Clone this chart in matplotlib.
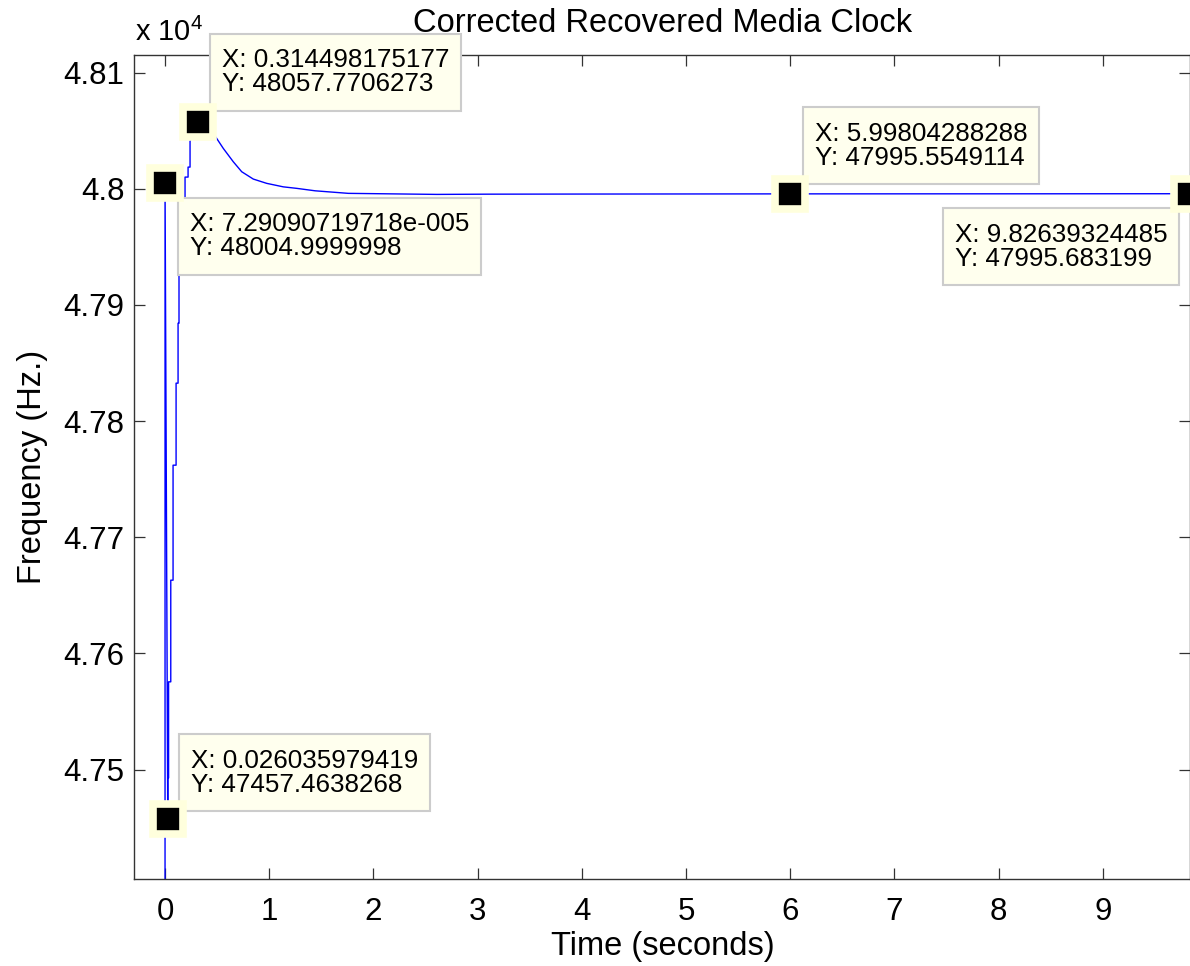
import matplotlib

matplotlib.use("Agg")
import matplotlib.pyplot as plt
from matplotlib.path import Path
from matplotlib.ticker import FuncFormatter, MultipleLocator

plt.rcParams["font.family"] = ["Liberation Sans", "DejaVu Sans"]
plt.rcParams["mathtext.fontset"] = "custom"
plt.rcParams["mathtext.rm"] = "Liberation Sans"
plt.rcParams["mathtext.it"] = "Liberation Sans:italic"

# recovered media clock trace (seconds, Hz)
# start-up spike
spike_t = [0.0, 7.29090719718e-05]
spike_f = [47000.0, 48004.9999998]
# staircase climb after the dip
climb_t = [0.026035979419, 0.027, 0.034, 0.034, 0.055, 0.055, 0.077, 0.077,
           0.106, 0.106, 0.125, 0.125, 0.134, 0.134, 0.154, 0.154, 0.192,
           0.192, 0.221, 0.221, 0.240, 0.240]
climb_f = [47457.4638268, 47492.8, 47492.8, 47575.5, 47575.5, 47663.0,
           47663.0, 47762.0, 47762.0, 47832.6, 47832.6, 47884.2, 47884.2,
           47927.3, 47927.3, 47972.9, 47972.9, 48010.0, 48010.0, 48018.6,
           48018.6, 48041.0]
# overshoot and settling
settle_t = [0.314498175177, 0.42, 0.489, 0.559, 0.655, 0.736, 0.847, 0.976,
            1.135, 1.264, 1.440, 1.759, 2.607, 3.1, 4.0, 5.99804288288, 8.0,
            9.82639324485, 9.84]
settle_f = [48057.7706273, 48051.5, 48044.2, 48034.7, 48023.2, 48014.6,
            48008.3, 48004.6, 48001.6, 48000.3, 47998.2, 47996.0, 47995.1,
            47995.3, 47995.4, 47995.5549114, 47995.6, 47995.683199, 47995.7]

time_s = spike_t + climb_t + settle_t
freq_hz = spike_f + climb_f + settle_f

# data tips
tip_t = [7.29090719718e-05, 0.314498175177, 0.026035979419, 5.99804288288, 9.82639324485]
tip_f = [48004.9999998, 48057.7706273, 47457.4638268, 47995.5549114, 47995.683199]
tip_x_text = ["7.29090719718e-005", "0.314498175177", "0.026035979419",
              "5.99804288288", "9.82639324485"]
tip_y_text = ["48004.9999998", "48057.7706273", "47457.4638268",
              "47995.5549114", "47995.683199"]
# where each tip text sits relative to its marker (pixels, right/up)
tip_offsets = [(24.7, -29.4), (23.9, 73.5), (23.0, 70.0), (24.7, 72.0), (-234.3, -29.1)]


def tip_box(x0, y0, width, height, mutation_size):
    # datatip frame: a bit more room above/below than at the sides
    px = 0.45 * mutation_size
    py = 0.56 * mutation_size
    x0, y0 = x0 - px, y0 - py
    x1, y1 = x0 + width + 2 * px, y0 + height + 2 * py
    return Path([(x0, y0), (x1, y0), (x1, y1), (x0, y1), (x0, y0)], closed=True)


fig = plt.figure(figsize=(11.9, 9.66), dpi=100)
ax = fig.add_axes([0.11286, 0.08975, 0.88756, 0.85331])

ax.plot(time_s, freq_hz, color="#0000FF", lw=1.0, zorder=2)

ax.set_xlim(-0.295, 9.842)
ax.set_ylim(47405.5, 48115.1)
ax.xaxis.set_major_locator(MultipleLocator(1))
ax.yaxis.set_major_locator(MultipleLocator(100))
ax.yaxis.set_major_formatter(FuncFormatter(lambda v, p: f"{v / 1e4:g}"))

ax.tick_params(direction="in", length=8, width=0.9, top=True, right=True,
               labelsize=22.5, color="#333333", pad=13)
ax.tick_params(axis="y", pad=7)
for s in ax.spines.values():
    s.set_color("#333333")
    s.set_linewidth(1.0)

ax.set_title("Corrected Recovered Media Clock", fontsize=23.5, pad=16.5)
ax.set_xlabel("Time (seconds)", fontsize=23.5, labelpad=2.5)
ax.set_ylabel("Frequency (Hz.)", fontsize=23.5, labelpad=11)
fig.text(135 / 1190, 1 - 41 / 966, r"x 10$^{4}$", fontsize=21, va="baseline")

for t, f, xs, ys, off in zip(tip_t, tip_f, tip_x_text, tip_y_text, tip_offsets):
    ax.annotate(f"X: {xs}\nY: {ys}", xy=(t, f), xytext=off,
                textcoords="offset pixels", ha="left", va="top",
                fontsize=18.7, linespacing=1.0, zorder=3,
                bbox=dict(boxstyle=tip_box, fc="#FFFFEE", ec="#CCCCCC", lw=1.5))

ax.plot(tip_t, tip_f, ls="none", marker="s", ms=20.9, mfc="black",
        mec="#FFFFDD", mew=5.5, zorder=4, clip_on=False)

fig.savefig("out.png", dpi=100)
